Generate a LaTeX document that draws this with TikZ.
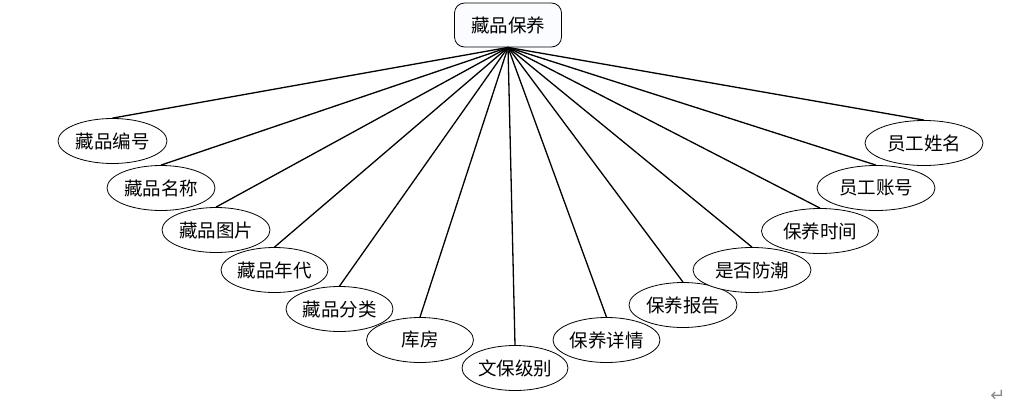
\documentclass[tikz,border=0pt]{standalone}
\usepackage{fontspec}
\newfontfamily\cjk{Noto Sans CJK SC}
\newfontfamily\symfont{DejaVu Sans}
\usetikzlibrary{shapes.geometric}
\definecolor{boxfill}{HTML}{FBFCFF}
\definecolor{markgrey}{HTML}{8C8C8C}
\tikzset{
  ent/.style={rectangle, rounded corners=10pt, draw=black, fill=boxfill,
              line width=0.8pt, minimum width=107pt, minimum height=44pt,
              inner sep=0pt, font=\cjk\fontsize{18.5}{20}\selectfont},
  attr/.style={ellipse, draw=black, fill=white, line width=0.8pt,
               minimum width=#1, minimum height=45pt, inner sep=0pt,
               font=\cjk\fontsize{18.5}{20}\selectfont},
  attr/.default=108pt,
  link/.style={line width=1.3pt, draw=black},
}
\begin{document}
\begin{tikzpicture}[x=1pt, y=-1pt]
  \useasboundingbox (0,0) rectangle (1023,405);

  \node[ent] (mt) at (508,25) {藏品保养};

  % left side
  \node[attr=109pt] (bh) at (112.5,141) {藏品编号};
  \node[attr] (mc) at (161,188) {藏品名称};
  \node[attr] (tp) at (216,230) {藏品图片};
  \node[attr=107pt] (nd) at (274.5,270) {藏品年代};
  \node[attr=107pt] (fl) at (339.5,309) {藏品分类};
  \node[attr=107pt] (kf) at (420,340) {库房};
  \node[attr=106pt] (jb) at (515,368) {文保级别};
  % right side
  \node[attr=107pt] (xq) at (606.5,340) {保养详情};
  \node[attr] (bg) at (683,305) {保养报告};
  \node[attr=118pt] (fc) at (752,270) {是否防潮};
  \node[attr=117pt] (sj) at (820,231) {保养时间};
  \node[attr=118pt] (zh) at (876,188) {员工账号};
  \node[attr=118pt] (xm) at (924,143) {员工姓名};

  \foreach \n in {bh,mc,tp,nd,fl,kf,jb,xq,bg,fc,sj,zh,xm}
    \draw[link] (mt.south) -- (\n.north);

  \node[text=markgrey, font=\symfont\fontsize{18}{18}\selectfont] (pm) at (998,396) {↵};
\end{tikzpicture}
\end{document}
